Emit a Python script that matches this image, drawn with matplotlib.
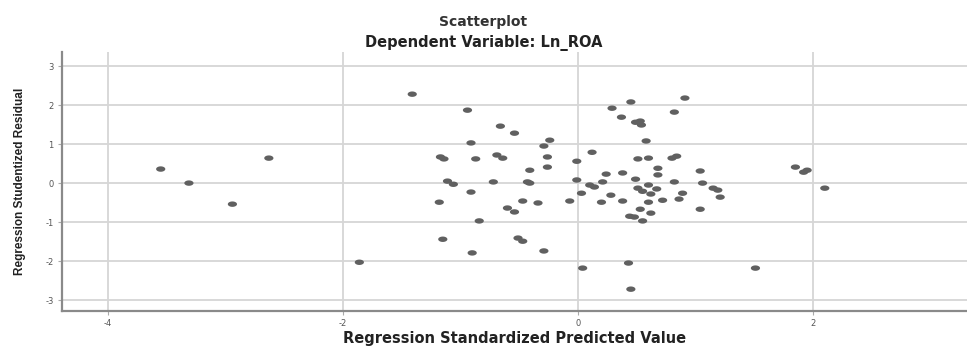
import numpy as np
import matplotlib
matplotlib.use("Agg")
import matplotlib.pyplot as plt

# Data (standardized predicted value, studentized residual)
pred = [-3.55, -3.31, -2.94, -2.63, -1.41, -1.86,
        -1.17, -1.14, -1.11, -1.06, -1.18, -1.15, -0.94, -0.91, -0.87, -0.91,
        -0.90, -0.84, -0.72, -0.69, -0.64, -0.66, -0.54, -0.60, -0.54, -0.51,
        -0.47, -0.47, -0.43, -0.41, -0.41, -0.34, -0.29, -0.24, -0.26, -0.26,
        -0.29, -0.07, -0.01, -0.01,
        0.03, 0.04, 0.12, 0.10, 0.14, 0.20, 0.21, 0.24, 0.28, 0.29, 0.37, 0.38,
        0.38, 0.45, 0.49, 0.53, 0.54, 0.49, 0.51, 0.60, 0.58, 0.51, 0.55, 0.60,
        0.67, 0.62, 0.60, 0.53, 0.62, 0.44, 0.48, 0.55, 0.43, 0.45, 0.68, 0.68,
        0.72, 0.80, 0.84, 0.82, 0.82, 0.86, 0.89, 0.91, 1.04, 1.06, 1.04, 1.15,
        1.19, 1.21,
        1.51, 1.85, 1.92, 1.95, 2.10]
resid = [0.36, 0.00, -0.54, 0.64, 2.28, -2.03,
         0.67, 0.62, 0.05, -0.03, -0.49, -1.44, 1.87, 1.03, 0.62, -0.23,
         -1.79, -0.97, 0.03, 0.72, 0.64, 1.46, 1.28, -0.64, -0.74, -1.41,
         -1.49, -0.46, 0.03, 0.00, 0.33, -0.51, 0.95, 1.10, 0.67, 0.41,
         -1.74, -0.46, 0.56, 0.08,
         -0.26, -2.18, 0.79, -0.05, -0.10, -0.49, 0.03, 0.23, -0.31, 1.92, 1.69, 0.26,
         -0.46, 2.08, 1.56, 1.59, 1.49, 0.10, 0.62, 0.64, 1.08, -0.13, -0.21, -0.05,
         -0.15, -0.28, -0.49, -0.67, -0.77, -0.85, -0.87, -0.97, -2.05, -2.72, 0.38, 0.21,
         -0.44, 0.64, 0.69, 1.82, 0.03, -0.41, -0.26, 2.18, 0.31, 0.00, -0.67, -0.13,
         -0.18, -0.36,
         -2.18, 0.41, 0.28, 0.33, -0.13]

x_ticks = [-4, -2, 0, 2]
x_labels = ["-4", "-2", "0", "2"]
y_ticks = [-3, -2, -1, 0, 1, 2, 3]
y_labels = ["-3", "-2", "-1", "0", "1", "2", "3"]

fig = plt.figure(figsize=(9.67, 3.47), dpi=100)
ax = fig.add_axes([0.0641, 0.1037, 0.9359, 0.7463])

# elliptical marker (reference is horizontally stretched)
t = np.linspace(0, 2 * np.pi, 40)
ell = np.column_stack([np.cos(t) * 1.7, np.sin(t)])
ax.scatter(pred, resid, marker=ell, s=44, color="#606060", edgecolors="none", zorder=3)

ax.set_xlim(-4.39, 3.31)
ax.set_ylim(-3.28, 3.36)
ax.set_xticks(x_ticks)
ax.set_xticklabels(x_labels)
ax.set_yticks(y_ticks)
ax.set_yticklabels(y_labels)

ax.grid(True, color="#d6d6d6", linewidth=1.3, zorder=0)
ax.set_axisbelow(True)
for side in ["top", "right"]:
    ax.spines[side].set_visible(False)
for side in ["left", "bottom"]:
    ax.spines[side].set_color("#8a8a8a")
    ax.spines[side].set_linewidth(1.6)

ax.tick_params(axis="both", length=3, width=0.8, color="#aaaaaa",
               labelsize=6, labelcolor="#555555", pad=3)

ax.set_xlabel("Regression Standardized Predicted Value", fontsize=10.5,
              fontweight="bold", family="DejaVu Sans", color="#222222", labelpad=2)
ax.set_ylabel("Regression Studentized Residual", fontsize=8.5,
              fontweight="bold", family=["Liberation Sans Narrow", "Liberation Sans"],
              color="#222222", labelpad=14)

fig.text(0.5, 0.937, "Scatterplot", ha="center", va="center", fontsize=10,
         fontweight="bold", family="DejaVu Sans", color="#333333")
fig.text(0.5, 0.876, "Dependent Variable: Ln_ROA", ha="center", va="center",
         fontsize=10.5, fontweight="bold", family="DejaVu Sans", color="#222222")

fig.savefig("out.png", dpi=100)
